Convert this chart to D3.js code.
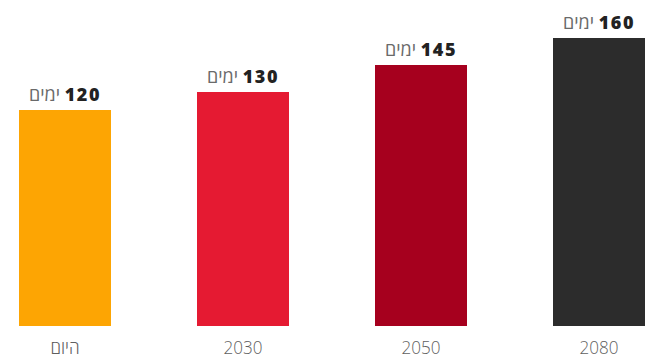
<!DOCTYPE html>
<html lang="he">
<head>
<meta charset="utf-8">
<script src="https://cdn.jsdelivr.net/npm/d3@7"></script>
<style>
  html, body { margin: 0; padding: 0; background: #fff; }
  svg { display: block; }
  text { font-family: "Open Sans", "Noto Sans", sans-serif; }
</style>
</head>
<body>
<svg id="chart" width="646" height="358"></svg>
<script>
// Length of the hot season (days) by period
const categories = ["היום", "2030", "2050", "2080"];
const days = [120, 130, 145, 160];
const unitLabel = "ימים";
const colors = ["#FDA503", "#E51A32", "#A6001E", "#2C2C2C"];

const width = 646, height = 358;
const baseline = 326;
const svg = d3.select("#chart");

const x = d3.scaleBand()
  .domain(categories)
  .range([19, 645])
  .paddingInner(86 / 178)
  .paddingOuter(0);

const y = d3.scaleLinear()
  .domain([0, 160])
  .range([baseline, 38]);

// Bars
svg.append("g").selectAll("rect")
  .data(categories)
  .join("rect")
  .attr("x", d => x(d))
  .attr("y", (d, i) => y(days[i]))
  .attr("width", x.bandwidth())
  .attr("height", (d, i) => y(0) - y(days[i]))
  .attr("fill", (d, i) => colors[i]);

// Value labels above bars: unit word on the left, bold number on the right
const vt = svg.append("g").selectAll("text")
  .data(categories)
  .join("text")
  .attr("x", d => x(d) + x.bandwidth() / 2)
  .attr("y", (d, i) => y(days[i]) - 9)
  .attr("text-anchor", "middle")
  .attr("font-family", "\"Open Sans\", \"Noto Sans\", sans-serif");
vt.append("tspan")
  .attr("fill", "#6a6a6a")
  .attr("font-weight", 400)
  .attr("font-size", 18)
  .text(unitLabel + "\u200E ");
vt.append("tspan")
  .attr("fill", "#222")
  .attr("font-weight", 800)
  .attr("font-size", 18)
  .attr("letter-spacing", 1.6)
  .text((d, i) => String(days[i]));

// Category axis below bars
const squeeze = 0.95;
const axis = d3.axisBottom(x).tickSize(0).tickPadding(0);
const ax = svg.append("g")
  .attr("transform", `translate(0,${baseline})`)
  .call(axis);
ax.select(".domain").remove();
ax.selectAll("text")
  .attr("fill", "#5f5f5f")
  .attr("font-size", 18)
  .attr("font-weight", 300)
  .attr("font-family", "\"Open Sans\", \"Noto Sans\", sans-serif")
  .attr("dy", null)
  .attr("y", 0)
  .attr("transform", `translate(0,28) scale(${squeeze},1)`);
</script>
</body>
</html>
